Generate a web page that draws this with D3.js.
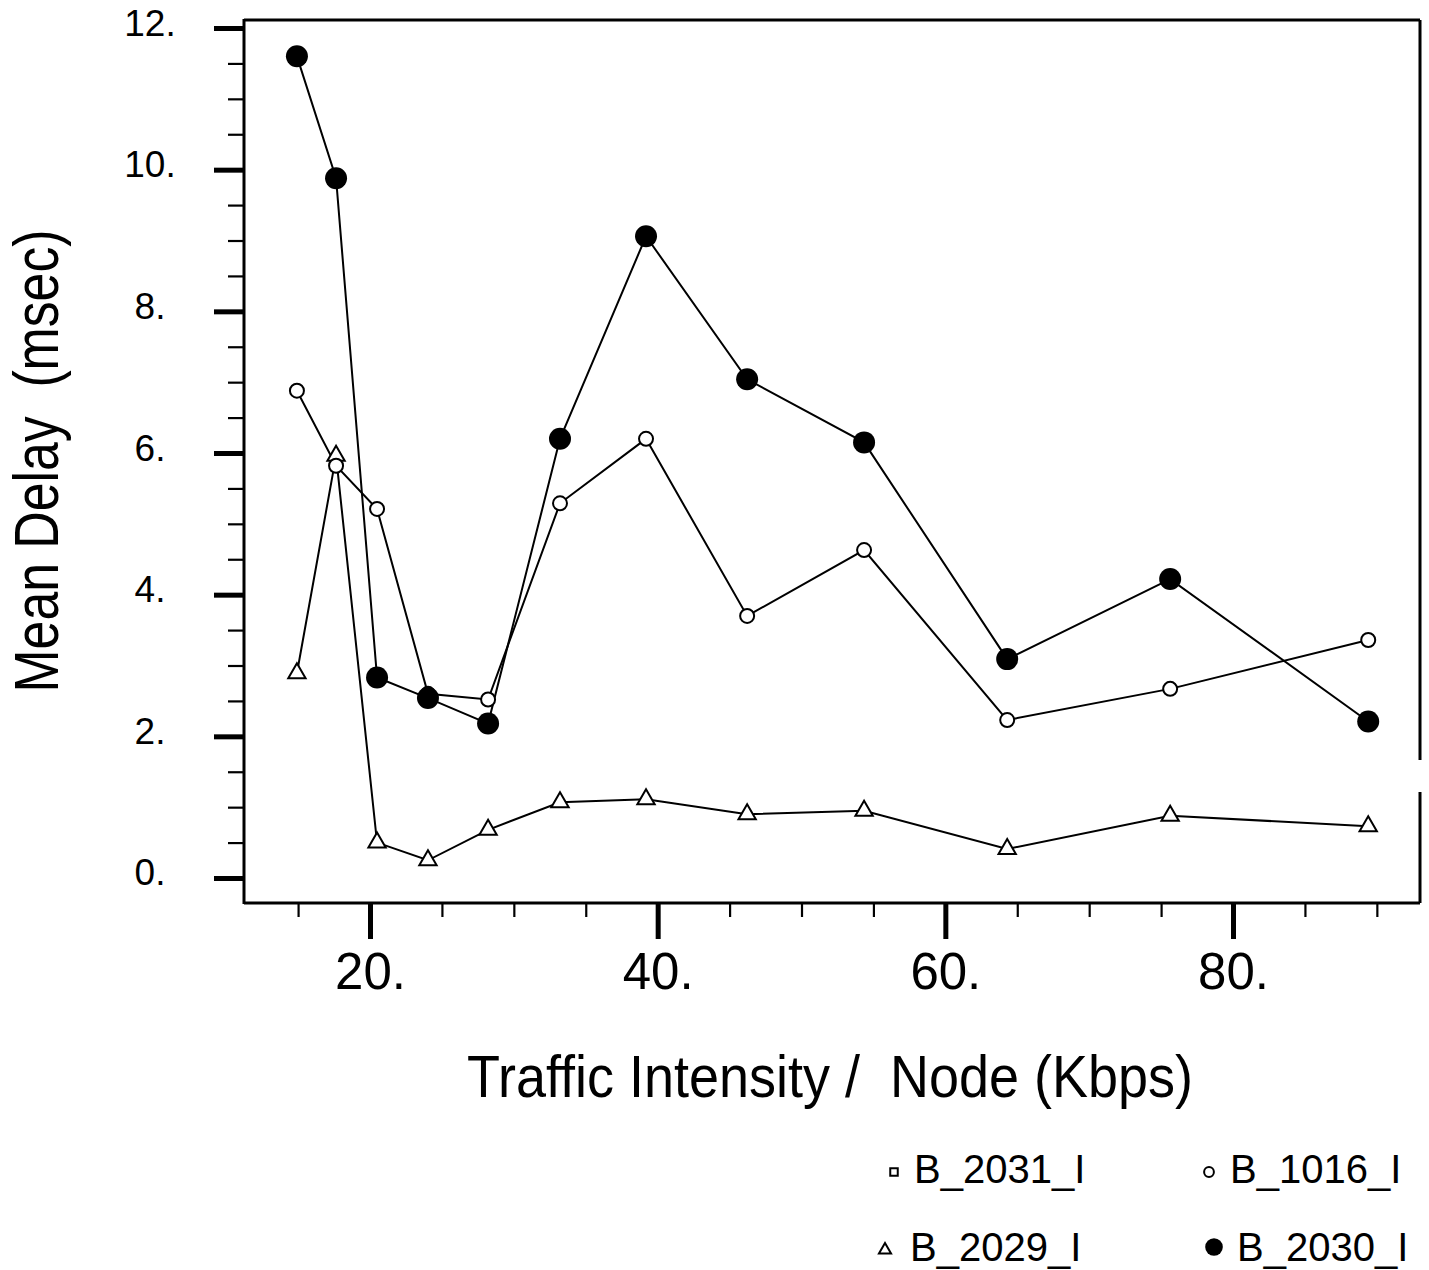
<!DOCTYPE html>
<html>
<head>
<meta charset="utf-8">
<script src="https://cdn.jsdelivr.net/npm/d3@7"></script>
<style>
  body { margin: 0; background: #fff; }
  text { font-family: "Liberation Sans", Arial, Helvetica, sans-serif; fill: #000; white-space: pre; }
</style>
</head>
<body>
<div id="chart"></div>
<script>
// traffic intensity per node (Kbps)
var traffic = [14.92, 17.64, 20.49, 24.03, 28.21, 33.21, 39.19, 46.22, 54.35, 64.30, 75.63, 89.40];

// mean delay (msec) per series
var delay2030 = [11.6, 9.88, 2.83, 2.54, 2.18, 6.2, 9.06, 7.04, 6.15, 3.09, 4.22, 2.21];
var delay1016 = [6.88, 5.82, 5.21, 2.6, 2.52, 5.29, 6.2, 3.7, 4.63, 2.23, 2.67, 3.36];
var delay2029 = [2.89, 5.96, 0.5, 0.25, 0.68, 1.07, 1.11, 0.9, 0.95, 0.41, 0.88, 0.73];
var delay2031 = []; // in the legend only, no points drawn

var seriesNames = ["B_2031_I", "B_1016_I", "B_2029_I", "B_2030_I"];

var yMajor = [0, 2, 4, 6, 8, 10, 12];
var xMajor = [20, 40, 60, 80];

var width = 1429, height = 1270;
var plot = {left: 244, right: 1420, top: 20, bottom: 903};

var x = d3.scaleLinear().domain([11.24, 93.0]).range([plot.left, plot.right]);
var y = d3.scaleLinear().domain([-0.353, 12.113]).range([plot.bottom, plot.top]);

var svg = d3.select("#chart")
    .append("svg")
      .attr("width", width)
      .attr("height", height);

// minor ticks every 0.5 on y, every 5 on x
var yMinor = d3.range(0.5, 12, 0.5).filter(function(v) { return v % 2 != 0; });
var xMinor = d3.range(15, 95, 5).filter(function(v) { return v % 20 != 0; });

svg.append("g")
    .attr("transform", "translate(" + plot.left + ",0)")
    .call(d3.axisLeft(y).tickValues(yMinor).tickSize(16).tickFormat(""))
    .call(function(g) { g.select(".domain").remove(); })
    .selectAll("line").attr("stroke-width", 2.2);

svg.append("g")
    .attr("transform", "translate(0," + plot.bottom + ")")
    .call(d3.axisBottom(x).tickValues(xMinor).tickSize(14).tickFormat(""))
    .call(function(g) { g.select(".domain").remove(); })
    .selectAll("line").attr("stroke-width", 2.2);

// major ticks and labels
var yAxis = svg.append("g")
    .attr("transform", "translate(" + plot.left + ",0)")
    .call(d3.axisLeft(y).tickValues(yMajor).tickSize(30).tickFormat(function(d) { return d + "."; }));
yAxis.select(".domain").remove();
yAxis.selectAll("line").attr("stroke-width", 5);
yAxis.selectAll("text")
    .attr("x", -94)
    .attr("dy", 7)
    .attr("text-anchor", "middle")
    .style("font-size", "37px")
    .style("font-family", "Liberation Sans, Arial, sans-serif");

var xAxis = svg.append("g")
    .attr("transform", "translate(0," + plot.bottom + ")")
    .call(d3.axisBottom(x).tickValues(xMajor).tickSize(36).tickFormat(function(d) { return d + "."; }));
xAxis.select(".domain").remove();
xAxis.selectAll("line").attr("stroke-width", 5);
xAxis.selectAll("text")
    .attr("y", 0)
    .attr("dy", 86)
    .style("font-size", "51px")
    .style("font-family", "Liberation Sans, Arial, sans-serif");

// frame (the right edge has a small break in the original)
var frame = svg.append("g").attr("stroke", "#000").attr("stroke-width", 3).attr("fill", "none");
frame.append("line").attr("x1", plot.left).attr("y1", plot.top - 1).attr("x2", plot.left).attr("y2", plot.bottom + 1);
frame.append("line").attr("x1", plot.left).attr("y1", plot.top).attr("x2", plot.right).attr("y2", plot.top);
frame.append("line").attr("x1", plot.left).attr("y1", plot.bottom).attr("x2", plot.right).attr("y2", plot.bottom);
frame.append("line").attr("x1", plot.right).attr("y1", plot.top).attr("x2", plot.right).attr("y2", 760);
frame.append("line").attr("x1", plot.right).attr("y1", 792).attr("x2", plot.right).attr("y2", plot.bottom);

// axis titles
svg.append("text")
    .attr("transform", "translate(58,461) rotate(-90)")
    .attr("text-anchor", "middle")
    .attr("textLength", 463)
    .attr("lengthAdjust", "spacingAndGlyphs")
    .style("font-size", "63px")
    .text("Mean Delay  (msec)");

svg.append("text")
    .attr("x", 830)
    .attr("y", 1097)
    .attr("text-anchor", "middle")
    .attr("textLength", 726)
    .attr("lengthAdjust", "spacingAndGlyphs")
    .style("font-size", "60px")
    .text("Traffic Intensity /  Node (Kbps)");

// series
function toPoints(vals) {
  return vals.map(function(v, i) { return {x: traffic[i], y: v}; });
}

var line = d3.line()
    .x(function(d) { return x(d.x); })
    .y(function(d) { return y(d.y); });

var series = [
  {name: "B_2029_I", data: toPoints(delay2029), marker: "triangle"},
  {name: "B_1016_I", data: toPoints(delay1016), marker: "open"},
  {name: "B_2030_I", data: toPoints(delay2030), marker: "filled"},
  {name: "B_2031_I", data: toPoints(delay2031), marker: "square"}
];

series.forEach(function(s) {
  if (s.data.length == 0) return;
  svg.append("path")
      .datum(s.data)
      .attr("fill", "none")
      .attr("stroke", "#000")
      .attr("stroke-width", 2)
      .attr("d", line);
});

function drawMarker(g, kind, cx, cy, scale) {
  scale = scale || 1;
  if (kind == "filled") {
    g.append("circle").attr("cx", cx).attr("cy", cy).attr("r", 11 * scale).attr("fill", "#000");
  } else if (kind == "open") {
    g.append("circle").attr("cx", cx).attr("cy", cy).attr("r", 7 * scale)
      .attr("fill", "#fff").attr("stroke", "#000").attr("stroke-width", 2);
  } else if (kind == "triangle") {
    g.append("path").attr("d", d3.symbol().type(d3.symbolTriangle).size(130 * scale * scale)())
      .attr("transform", "translate(" + cx + "," + cy + ")")
      .attr("fill", "#fff").attr("stroke", "#000").attr("stroke-width", 2);
  } else {
    g.append("path").attr("d", d3.symbol().type(d3.symbolSquare).size(100 * scale * scale)())
      .attr("transform", "translate(" + cx + "," + cy + ")")
      .attr("fill", "#fff").attr("stroke", "#000").attr("stroke-width", 2);
  }
}

var marks = svg.append("g");
series.forEach(function(s) {
  s.data.forEach(function(d) {
    drawMarker(marks, s.marker, x(d.x), y(d.y));
  });
});

// legend, two rows of two
var legendPos = {
  "B_2031_I": {mx: 894, my: 1172, tx: 914, ty: 1183, marker: "square", k: 0.75},
  "B_1016_I": {mx: 1209, my: 1172, tx: 1230, ty: 1183, marker: "open", k: 0.7},
  "B_2029_I": {mx: 885, my: 1250, tx: 910, ty: 1261, marker: "triangle", k: 0.7},
  "B_2030_I": {mx: 1214, my: 1247, tx: 1237, ty: 1261, marker: "filled", k: 0.8}
};
var legend = svg.append("g");
seriesNames.forEach(function(n) {
  var p = legendPos[n];
  drawMarker(legend, p.marker, p.mx, p.my, p.k);
  legend.append("text")
      .attr("x", p.tx)
      .attr("y", p.ty)
      .style("font-size", "40px")
      .text(n);
});
</script>
</body>
</html>
